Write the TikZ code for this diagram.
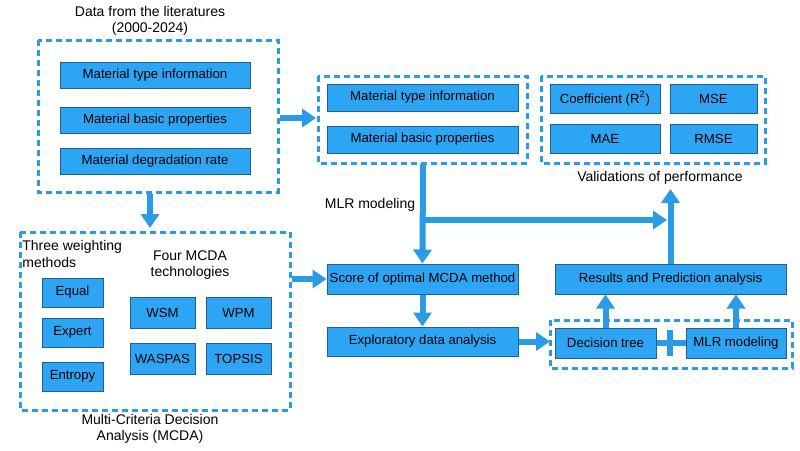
\documentclass[tikz,border=0pt]{standalone}
\usepackage{fontspec}
\setmainfont{Liberation Sans}
\usetikzlibrary{arrows.meta}
\definecolor{bfill}{HTML}{2CA6F4}
\definecolor{bdraw}{HTML}{235F8C}
\definecolor{dash}{HTML}{2A9BE6}
\begin{document}
\begin{tikzpicture}[x=0.5pt,y=-0.5pt,
 box/.style={draw=bdraw,fill=bfill,line width=0.5pt,inner sep=0pt,font=\fontsize{6.6}{7.5}\selectfont},
 grp/.style={draw=dash,line width=1.5pt,dash pattern=on 3pt off 2pt},
 lab/.style={font=\fontsize{7}{8.2}\selectfont,align=center,inner sep=0pt},
 arr/.style={draw=dash,line width=3pt,-{Triangle[length=7pt,width=9pt]}},
 ln/.style={draw=dash,line width=3pt}]
\useasboundingbox (0,0) rectangle (800,451);
\fill[white] (0,0) rectangle (800,451);
% groups
\draw[grp] (38,40) rectangle (278,192);
\draw[grp] (318,76) rectangle (527,163);
\draw[grp] (541,76) rectangle (765,163);
\draw[grp] (20,232) rectangle (290,410);
\draw[grp] (550,320) rectangle (792,368);
\node[lab] (t1) at (150,21) {Data from the literatures\\(2000-2024)};
\node[box,minimum width=95pt,minimum height=13pt] (a1) at (155,75) {Material type information};
\node[box,minimum width=95pt,minimum height=13pt] (a2) at (155,120) {Material basic properties};
\node[box,minimum width=95pt,minimum height=13pt] (a3) at (155,161) {Material degradation rate};
\node[box,minimum width=95.5pt,minimum height=13.5pt] (b1) at (422.5,97.5) {Material type information};
\node[box,minimum width=95.5pt,minimum height=13.5pt] (b2) at (422.5,139.5) {Material basic properties};
\node[box,minimum width=55pt,minimum height=14.5pt] (c1) at (605,98.5) {Coefficient (R\textsuperscript{2})};
\node[box,minimum width=43.5pt,minimum height=14.5pt] (c2) at (713.5,98.5) {MSE};
\node[box,minimum width=55pt,minimum height=14.5pt] (c3) at (605,138.5) {MAE};
\node[box,minimum width=43.5pt,minimum height=14.5pt] (c4) at (713.5,138.5) {RMSE};
\node[lab] (vp) at (660,178) {Validations of performance};
\node[lab,align=left,anchor=west] (tw) at (22,254) {Three weighting\\methods};
\node[box,minimum width=30.5pt,minimum height=14.5pt] (e1) at (72.5,292.5) {Equal};
\node[box,minimum width=30.5pt,minimum height=14.5pt] (e2) at (72.5,332.5) {Expert};
\node[box,minimum width=30.5pt,minimum height=14.5pt] (e3) at (72.5,376.5) {Entropy};
\node[lab] (fm) at (190,265) {Four MCDA\\technologies};
\node[box,minimum width=32.5pt,minimum height=15.5pt] (m1) at (162.5,312.5) {WSM};
\node[box,minimum width=32.5pt,minimum height=15.5pt] (m2) at (238.5,312.5) {WPM};
\node[box,minimum width=32.5pt,minimum height=15.5pt] (m3) at (162.5,358.5) {WASPAS};
\node[box,minimum width=32.5pt,minimum height=15.5pt] (m4) at (238.5,358.5) {TOPSIS};
\node[lab] (mc) at (150,429) {Multi-Criteria Decision\\Analysis (MCDA)};
\node[box,minimum width=95.5pt,minimum height=15pt] (s) at (422.5,279) {Score of optimal MCDA method};
\node[box,minimum width=95.5pt,minimum height=14.5pt] (x) at (422.5,341.5) {Exploratory data analysis};
\node[box,minimum width=115.5pt,minimum height=15pt] (r) at (670.5,279) {Results and Prediction analysis};
\node[box,minimum width=50.5pt,minimum height=15pt] (d) at (605.5,343) {Decision tree};
\node[box,minimum width=50pt,minimum height=15pt] (m) at (736,343) {MLR modeling};
\node[lab] (ml) at (370,205) {MLR modeling};
% connectors
\coordinate (g1r) at (280,118); \coordinate (g2l) at (316,118);
\draw[arr] (g1r) -- (g2l);
\coordinate (g1b) at (150,194); \coordinate (g3t) at (150,228);
\draw[arr] (g1b) -- (g3t);
\coordinate (g3r) at (292,279);
\draw[arr] (g3r) -- (s.west);
\coordinate (g2b) at (423,164); \coordinate (jn) at (423,220);
\draw[arr] (g2b) -- (s.north);
\coordinate (hz) at (667,220);
\draw[arr] (jn) -- (hz);
\coordinate (vt) at (670.5,189);
\draw[arr] (r.north) -- (vt);
\draw[arr] (s) -- (x);
\coordinate (g5l) at (550,341.5);
\draw[arr] (x.east) -- (g5l);
\draw[ln] (d) -- (m);
\coordinate (tk1) at (670,330); \coordinate (tk2) at (670,356);
\draw[ln] (tk1) -- (tk2);
\draw[arr] (d.north) -- (r.south -| d.north);
\draw[arr] (m.north) -- (r.south -| m.north);
\end{tikzpicture}
\end{document}
